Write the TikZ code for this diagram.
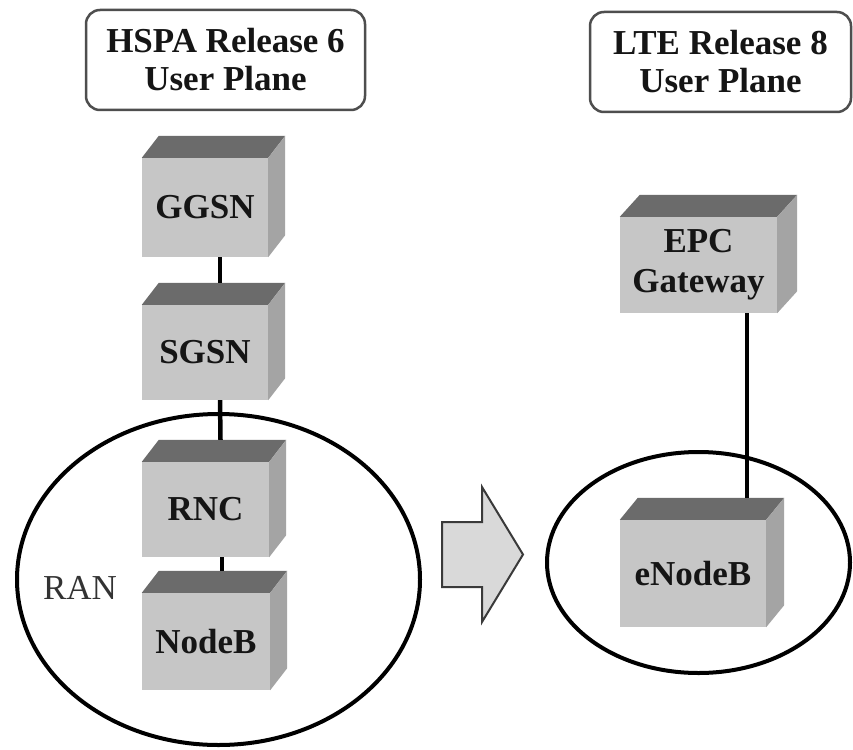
\documentclass[tikz,border=0pt]{standalone}
\usepackage{fontspec}
\setmainfont{Liberation Serif}
\usetikzlibrary{shapes.geometric}
\definecolor{topc}{HTML}{6B6B6B}
\definecolor{frontc}{HTML}{C6C6C6}
\definecolor{sidec}{HTML}{A4A4A4}
\definecolor{arrowc}{HTML}{D9D9D9}
\definecolor{arrowd}{HTML}{3A3A3A}
\definecolor{titlec}{HTML}{4E4E4E}
\definecolor{textc}{HTML}{151515}
\newcommand\depthfaces[3]{%
  \fill[topc] (#1.north west) -- (#1.north east) -- ++(#2,-#3) -- ([shift={(#2,-#3)}]#1.north west) -- cycle;
  \fill[sidec] (#1.north east) -- ++(#2,-#3) -- ([shift={(#2,-#3)}]#1.south east) -- (#1.south east) -- cycle;}
\begin{document}
\begin{tikzpicture}[x=1pt,y=-1pt,
  front/.style={fill=frontc, inner sep=0pt, text=textc, align=center,
    font=\fontsize{35}{40}\selectfont\bfseries},
  conn/.style={line width=4.5pt, black},
  ring/.style={draw=black, line width=4pt, ellipse, inner sep=0pt},
  titlebox/.style={draw=titlec, line width=2.5pt, rounded corners=14pt, inner sep=0pt,
    align=center, text=textc, font=\fontsize{35}{38}\selectfont\bfseries},
  lbl/.style={text=black!80, inner sep=0pt, font=\fontsize{35}{40}\selectfont}]
\useasboundingbox (0,0) rectangle (853,749);
\fill[white] (0,0) rectangle (853,749);

% title boxes
\node[titlebox, minimum width=279pt, minimum height=100pt] (t1) at (225.5,60) {HSPA Release 6\\User Plane};
\node[titlebox, minimum width=261pt, minimum height=100pt] (t2) at (720.5,62) {LTE Release 8\\User Plane};

% ellipses
\node[ring, minimum width=403pt, minimum height=331pt] (ranring) at (218.5,579.5) {};
\node[ring, minimum width=303pt, minimum height=221pt] (ltering) at (698.5,562.5) {};

% boxes
\node[front, minimum width=126pt, minimum height=99pt] (ggsn) at (205,207.5) {GGSN};
\node[front, minimum width=126pt, minimum height=95pt] (sgsn) at (205,352.5) {SGSN};
\node[front, minimum width=127pt, minimum height=95pt] (rnc) at (205.5,509.5) {RNC};
\node[front, minimum width=128pt, minimum height=97pt] (nodeb) at (206,641.5) {NodeB};
\node[front, minimum width=157pt, minimum height=96pt] (epc) at (698.5,265) {EPC\\Gateway};
\node[front, minimum width=146pt, minimum height=107pt] (enb) at (693,573.5) {eNodeB};
\depthfaces{ggsn}{17}{22}
\depthfaces{sgsn}{17}{22}
\depthfaces{rnc}{17}{22}
\depthfaces{nodeb}{17}{22}
\depthfaces{epc}{20}{22}
\depthfaces{enb}{18}{22}

% connectors
\draw[conn] ([xshift=15pt]ggsn.south) -- ([xshift=15pt,yshift=22pt]sgsn.north);
\draw[conn] ([xshift=15pt]sgsn.south) -- ([xshift=15pt,yshift=22pt]rnc.north);
\draw[conn] ([xshift=16.5pt]rnc.south) -- ([xshift=16pt,yshift=22pt]nodeb.north);
\draw[conn] ([xshift=48.5pt]epc.south) -- ([xshift=54pt,yshift=22pt]enb.north);

% RAN label
\node[lbl] (ran) at (80,588) {RAN};

% block arrow
\filldraw[fill=arrowc, draw=arrowd, line width=2pt, line join=miter]
  (442,522) -- (482,522) -- (482,487) -- (523,554.5) -- (482,622) -- (482,587) -- (442,587) -- cycle;
\end{tikzpicture}
\end{document}
